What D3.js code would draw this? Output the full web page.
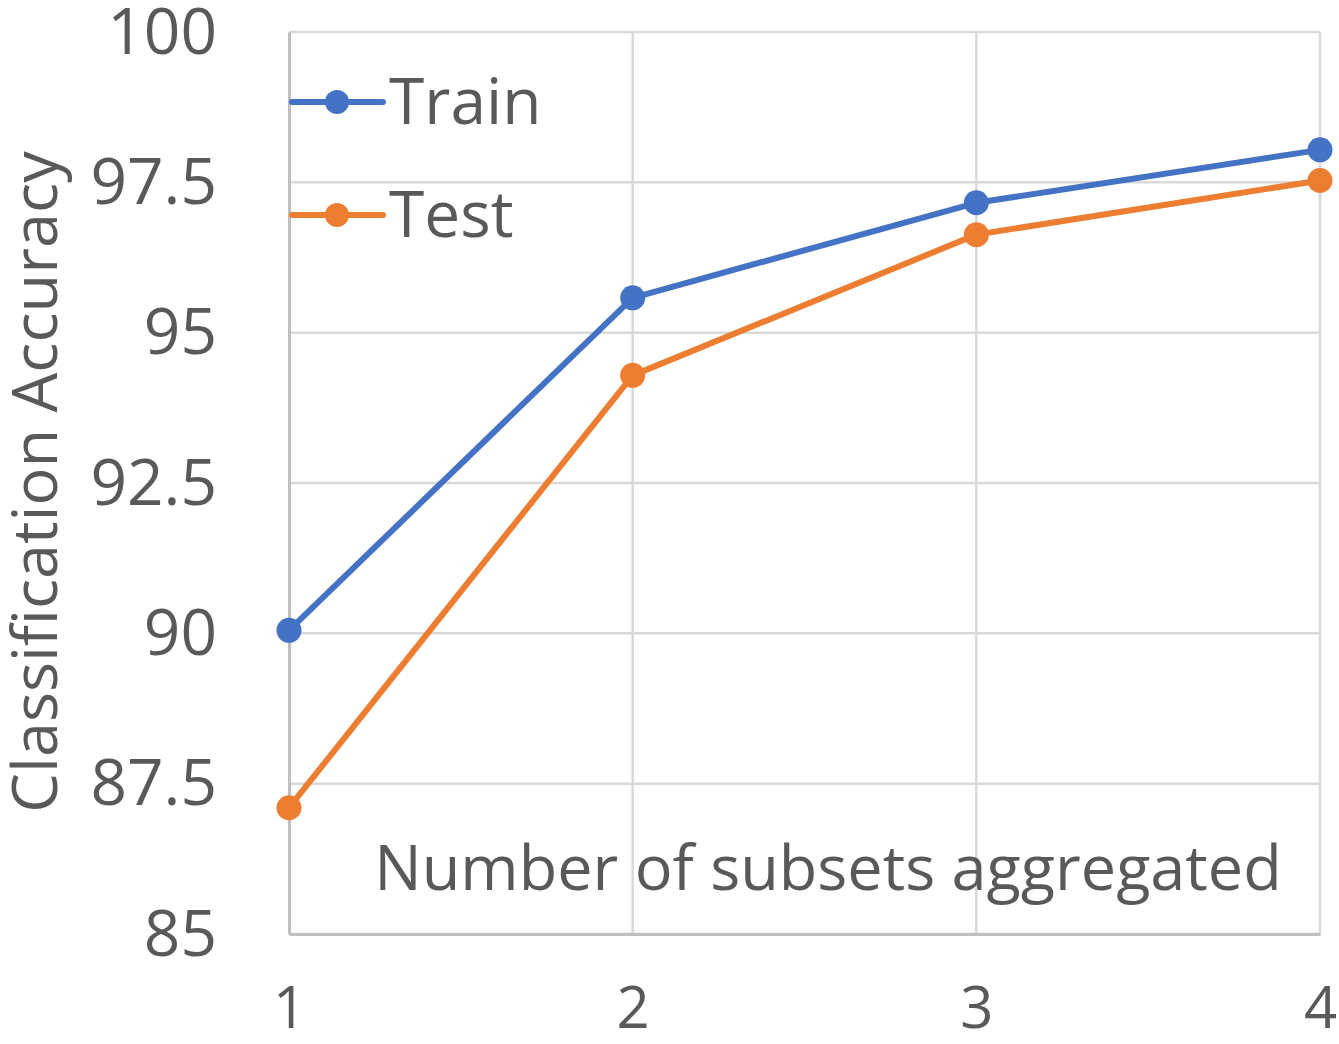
<!DOCTYPE html>
<html>
<head>
<meta charset="utf-8">
<script src="https://cdn.jsdelivr.net/npm/d3@7"></script>
<style>
  body { margin: 0; background: #fff; }
  text { font-family: "Open Sans", Lato, sans-serif; fill: #595959; }
</style>
</head>
<body>
<script>
var subsets = [1, 2, 3, 4];
var trainAcc = [90.05, 95.58, 97.16, 98.04];
var testAcc = [87.10, 94.29, 96.63, 97.53];
var yTicks = [85, 87.5, 90, 92.5, 95, 97.5, 100];
var seriesNames = ["Train", "Test"];
var seriesColors = ["#4472C4", "#ED7D31"];

var width = 1339, height = 1044;
var margin = {top: 32, right: 19, bottom: 110, left: 289};
var w = width - margin.left - margin.right;
var h = height - margin.top - margin.bottom;

var svg = d3.select("body")
    .append("svg")
    .attr("width", width)
    .attr("height", height);

var g = svg.append("g")
    .attr("transform", "translate(" + margin.left + "," + margin.top + ")");

var x = d3.scaleLinear().domain([1, 4]).range([0, w]);
var y = d3.scaleLinear().domain([85, 100]).range([h, 0]);

// horizontal gridlines
g.append("g")
    .selectAll("line")
    .data(yTicks)
    .enter()
    .append("line")
    .attr("x1", 0)
    .attr("x2", w)
    .attr("y1", function(d) { return y(d); })
    .attr("y2", function(d) { return y(d); })
    .attr("stroke", "#d9d9d9")
    .attr("stroke-width", 2.5);

// vertical gridlines
g.append("g")
    .selectAll("line")
    .data(subsets.slice(1))
    .enter()
    .append("line")
    .attr("x1", function(d) { return x(d); })
    .attr("x2", function(d) { return x(d); })
    .attr("y1", 0)
    .attr("y2", h)
    .attr("stroke", "#d9d9d9")
    .attr("stroke-width", 2.5);

// y axis
var yAxis = g.append("g")
    .call(d3.axisLeft(y).tickValues(yTicks).tickSize(0).tickPadding(72)
        .tickFormat(function(d) { return d3.format("")(d); }));
yAxis.select(".domain").attr("stroke", "#bfbfbf").attr("stroke-width", 3);
yAxis.selectAll("text")
    .attr("font-size", 64)
    .attr("dy", "0.33em")
    .attr("fill", "#595959");

// x axis
var xAxis = g.append("g")
    .attr("transform", "translate(0," + h + ")")
    .call(d3.axisBottom(x).tickValues(subsets).tickSize(0).tickPadding(75)
        .tickFormat(d3.format("d")));
xAxis.select(".domain").attr("stroke", "#bfbfbf").attr("stroke-width", 3);
xAxis.selectAll("text")
    .attr("font-size", 58)
    .attr("dy", "0.33em")
    .attr("fill", "#595959");

// lines and markers
var line = d3.line()
    .x(function(d, i) { return x(subsets[i]); })
    .y(function(d) { return y(d); });

[trainAcc, testAcc].forEach(function(vals, k) {
    g.append("path")
        .datum(vals)
        .attr("d", line)
        .attr("fill", "none")
        .attr("stroke", seriesColors[k])
        .attr("stroke-width", 6)
        .attr("stroke-linejoin", "round");
    g.selectAll(".dot" + k)
        .data(vals)
        .enter()
        .append("circle")
        .attr("class", "dot" + k)
        .attr("cx", function(d, i) { return x(subsets[i]); })
        .attr("cy", function(d) { return y(d); })
        .attr("r", 12.5)
        .attr("fill", seriesColors[k]);
});

// legend
var legend = g.append("g");
seriesNames.forEach(function(name, k) {
    var ly = 70 + k * 113;
    legend.append("line")
        .attr("x1", 3).attr("x2", 94)
        .attr("y1", ly).attr("y2", ly)
        .attr("stroke", seriesColors[k])
        .attr("stroke-width", 6)
        .attr("stroke-linecap", "round");
    legend.append("circle")
        .attr("cx", 48).attr("cy", ly).attr("r", 12)
        .attr("fill", seriesColors[k]);
    legend.append("text")
        .attr("x", 100)
        .attr("y", ly + 22)
        .attr("font-size", 64)
        .text(name);
});

// x title inside plot
g.append("text")
    .attr("x", 539)
    .attr("y", 858)
    .attr("text-anchor", "middle")
    .attr("font-size", 63)
    .text("Number of subsets aggregated");

// y title
svg.append("text")
    .attr("transform", "translate(57,482) rotate(-90)")
    .attr("text-anchor", "middle")
    .attr("font-size", 63)
    .text("Classification Accuracy");
</script>
</body>
</html>
